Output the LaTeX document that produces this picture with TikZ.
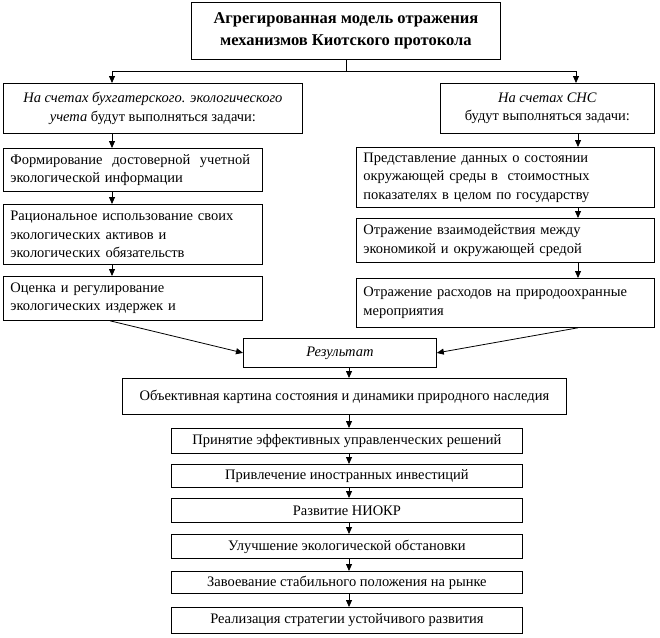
\documentclass[tikz,border=0pt]{standalone}
\usepackage{fontspec}
\setmainfont{Liberation Serif}
\usetikzlibrary{arrows.meta}
\begin{document}
\begin{tikzpicture}[x=1pt,y=-1pt,
  box/.style={draw, line width=0.8pt, anchor=north west, inner xsep=7pt, inner ysep=0pt,
    font=\fontsize{14.5}{18.5}\selectfont},
  lbox/.style={box, align=left},
  cbox/.style={box, align=center},
  arr/.style={line width=0.8pt, -{Triangle[length=7pt,width=6pt]}},
  ln/.style={line width=0.8pt}]
\useasboundingbox (0,0) rectangle (660,637);
\fill[white] (0,0) rectangle (660,637);
% top
\node[cbox, minimum width=309pt, minimum height=57pt, font=\fontsize{16.5}{22}\selectfont\bfseries] (title) at (191,2)
  {Агрегированная модель отражения\\механизмов Киотского протокола};
\node[cbox, minimum width=299pt, minimum height=50pt] (L0) at (3,83)
  {\textit{На счетах бухгатерского. экологического}\\\textit{учета} будут выполняться задачи:};
\node[cbox, minimum width=214pt, minimum height=50pt] (R0) at (440,83)
  {\textit{На счетах СНС}\\будут выполняться задачи:};
% left column
\node[lbox, text width=245pt, minimum height=43pt] (L1) at (3,148)
  {Формирование\ \ достоверной\ \ учетной\\экологической информации};
\node[lbox, text width=245pt, minimum height=60pt] (L2) at (3,204)
  {Рациональное использование своих\\экологических активов и\\экологических обязательств};
\node[lbox, text width=245pt, minimum height=44pt] (L3) at (3,276)
  {Оценка и регулирование\\экологических издержек и};
% right column
\node[lbox, text width=284pt, minimum height=60pt] (R1) at (356,147)
  {Представление данных о состоянии\\окружающей среды в\ \ стоимостных\\показателях в целом по государству};
\node[lbox, text width=284pt, minimum height=44pt] (R2) at (356,218)
  {Отражение взаимодействия между\\экономикой и окружающей средой};
\node[lbox, text width=284pt, minimum height=49pt] (R3) at (356,278)
  {Отражение расходов на природоохранные\\мероприятия};
% result
\node[cbox, minimum width=193pt, minimum height=29pt] (Res) at (243,338) {\textit{Результат}};
\node[cbox, minimum width=444pt, minimum height=36pt] (Obj) at (122,378)
  {Объективная картина состояния и динамики природного наследия};
\node[cbox, minimum width=351pt, minimum height=25pt] (S1) at (171,428) {Принятие эффективных управленческих решений};
\node[cbox, minimum width=351pt, minimum height=23pt] (S2) at (171,464) {Привлечение иностранных инвестиций};
\node[cbox, minimum width=351pt, minimum height=24pt] (S3) at (171,498) {Развитие НИОКР};
\node[cbox, minimum width=351pt, minimum height=24pt] (S4) at (171,534) {Улучшение экологической обстановки};
\node[cbox, minimum width=351pt, minimum height=22pt] (S5) at (171,571) {Завоевание стабильного положения на рынке};
\node[cbox, minimum width=351pt, minimum height=26pt] (S6) at (171,607) {Реализация стратегии устойчивого развития};
% connectors
\coordinate (jl) at (112,71);
\coordinate (jr) at (576,71);
\coordinate (cr) at (578,0);
\coordinate (cm) at (349,0);
\draw[ln] (title.south) |- (jl);
\draw[ln] (title.south) |- (jr);
\draw[arr] (jl) -- (jl |- L0.north);
\draw[arr] (jr) -- (jr |- R0.north);
\draw[arr] (L0.south -| jl) -- (L1.north -| jl);
\draw[arr] (L1.south -| jl) -- (L2.north -| jl);
\draw[arr] (L2.south -| jl) -- (L3.north -| jl);
\draw[arr] (R0.south -| cr) -- (R1.north -| cr);
\draw[arr] (R1.south -| cr) -- (R2.north -| cr);
\draw[arr] (R2.south -| cr) -- (R3.north -| cr);
\coordinate (dl) at (110,0);
\draw[arr] (L3.south -| dl) -- (Res.west);
\draw[arr] (R3.south -| cr) -- (Res.east);
\draw[arr] (Res.south -| cm) -- (Obj.north -| cm);
\draw[arr] (Obj.south -| cm) -- (S1.north -| cm);
\draw[arr] (S1.south -| cm) -- (S2.north -| cm);
\draw[arr] (S2.south -| cm) -- (S3.north -| cm);
\draw[arr] (S3.south -| cm) -- (S4.north -| cm);
\draw[arr] (S4.south -| cm) -- (S5.north -| cm);
\draw[arr] (S5.south -| cm) -- (S6.north -| cm);
\end{tikzpicture}
\end{document}
